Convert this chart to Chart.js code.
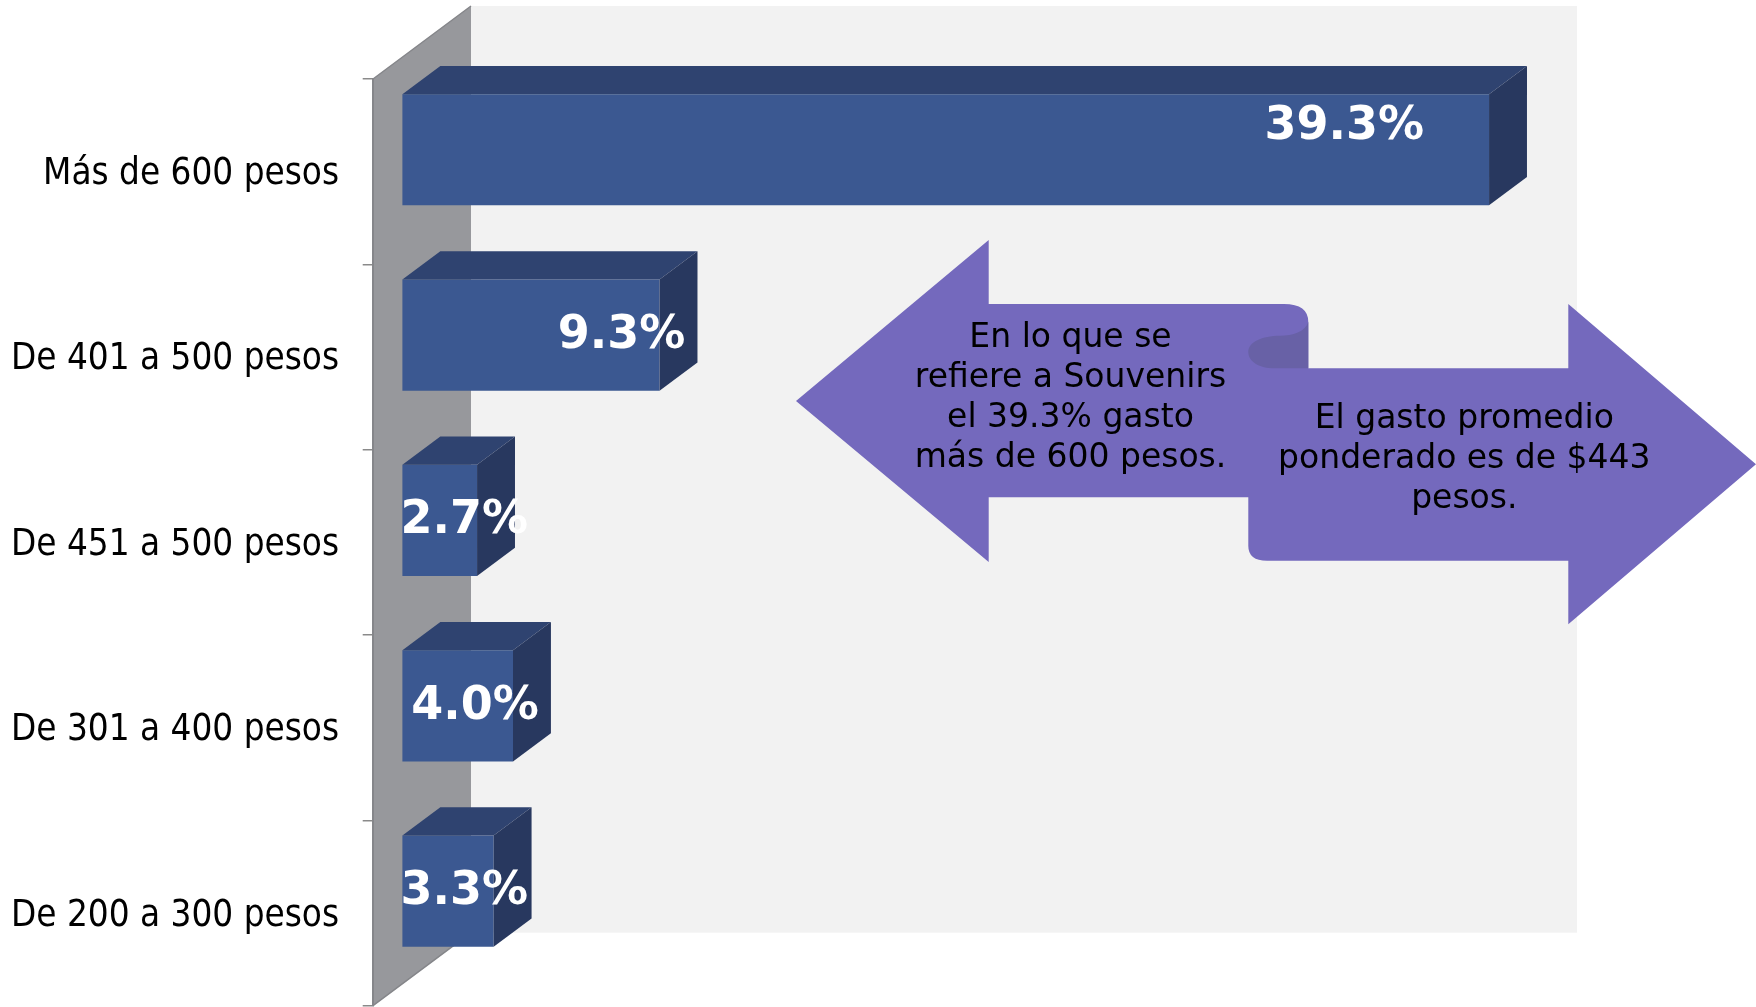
<!DOCTYPE html>
<html>
<head>
<meta charset="utf-8">
<script src="https://cdn.jsdelivr.net/npm/chart.js@4.4.1/dist/chart.umd.min.js"></script>
<style>
  html, body { margin: 0; padding: 0; background: #ffffff; overflow: hidden; }
  #wrap { width: 1756px; height: 1007px; position: relative; }
  canvas { display: block; }
</style>
</head>
<body>
<div id="wrap"><canvas id="c" width="1756" height="1007"></canvas></div>
<script>
// ---------- data ----------
const categories = ['Más de 600 pesos', 'De 401 a 500 pesos', 'De 451 a 500 pesos', 'De 301 a 400 pesos', 'De 200 a 300 pesos'];
const values = [39.3, 9.3, 2.7, 4.0, 3.3];
const axisRange = [0, 40];
const noteLeft = ['En lo que se', 'refiere a Souvenirs', 'el 39.3% gasto', 'más de 600 pesos.'];
const noteRight = ['El gasto promedio', 'ponderado es de $443', 'pesos.'];

// ---------- styling ----------
const DEPTH = { dx: 98, dy: 73 };       // projected depth of the 3D plot box
const BAR_FRONT = 0.3;                  // bars sit this far back in the box
const BAR_DEPTH = 0.387;                // bar depth as fraction of box depth
const COLORS = {
  front: '#3b5891', top: '#2f4370', side: '#28385f',
  wall: '#97989c', wallEdge: '#85868a', back: '#f2f2f2',
  arrow: '#7469bd', curl: '#6861a6', tick: '#8a8a8a'
};
const FONT = "'DejaVu Sans', 'Noto Sans', sans-serif";

const decor = {
  id: 'decor',
  beforeDraw(chart) {
    const { ctx, chartArea: a } = chart;
    ctx.save();
    // back plane
    ctx.fillStyle = COLORS.back;
    ctx.fillRect(a.left + DEPTH.dx, a.top - DEPTH.dy, a.right - a.left, a.bottom - a.top);
    // side wall
    ctx.beginPath();
    ctx.moveTo(a.left, a.top);
    ctx.lineTo(a.left + DEPTH.dx, a.top - DEPTH.dy);
    ctx.lineTo(a.left + DEPTH.dx, a.bottom - DEPTH.dy);
    ctx.lineTo(a.left, a.bottom);
    ctx.closePath();
    ctx.fillStyle = COLORS.wall;
    ctx.fill();
    ctx.strokeStyle = COLORS.wallEdge;
    ctx.lineWidth = 1.5;
    ctx.beginPath();
    ctx.moveTo(a.left, a.top); ctx.lineTo(a.left + DEPTH.dx, a.top - DEPTH.dy);
    ctx.moveTo(a.left, a.bottom); ctx.lineTo(a.left + DEPTH.dx, a.bottom - DEPTH.dy);
    ctx.stroke();
    ctx.restore();
  },
  beforeDatasetsDraw(chart) {
    chart.ctx.save();
    chart.ctx.translate(DEPTH.dx * BAR_FRONT, -DEPTH.dy * BAR_FRONT);
  },
  afterDatasetsDraw(chart) {
    const ctx = chart.ctx;
    const meta = chart.getDatasetMeta(0);
    const ddx = DEPTH.dx * BAR_DEPTH, ddy = DEPTH.dy * BAR_DEPTH;
    meta.data.forEach((bar) => {
      const { x, y, base, height } = bar.getProps(['x', 'y', 'base', 'height'], true);
      const top = y - height / 2, bot = y + height / 2;
      ctx.fillStyle = COLORS.top;
      ctx.beginPath();
      ctx.moveTo(base, top); ctx.lineTo(base + ddx, top - ddy);
      ctx.lineTo(x + ddx, top - ddy); ctx.lineTo(x, top);
      ctx.closePath(); ctx.fill();
      ctx.fillStyle = COLORS.side;
      ctx.beginPath();
      ctx.moveTo(x, top); ctx.lineTo(x + ddx, top - ddy);
      ctx.lineTo(x + ddx, bot - ddy); ctx.lineTo(x, bot);
      ctx.closePath(); ctx.fill();
    });
    // value labels
    const size = 46;
    ctx.font = 'bold ' + size + 'px ' + FONT;
    ctx.fillStyle = '#ffffff';
    ctx.textAlign = 'center';
    ctx.textBaseline = 'alphabetic';
    const half = 0.3645 * size;
    meta.data.forEach((bar, i) => {
      const { x, y, base, height } = bar.getProps(['x', 'y', 'base', 'height'], true);
      const txt = values[i].toFixed(1) + '%';
      const w = ctx.measureText(txt).width;
      let cx, cy;
      if (x - base > 3 * w) {
        cx = x - 65 - w / 2;
        cy = y - height / 2 + 28.5;
      } else {
        cx = Math.max(x - 38, base - 2 + w / 2);
        cy = y - 4;
      }
      ctx.fillText(txt, cx, cy + half);
    });
    ctx.restore();
  },
  afterDraw(chart) {
    const ctx = chart.ctx;
    ctx.save();
    // double arrow shape
    ctx.fillStyle = COLORS.arrow;
    ctx.beginPath();
    ctx.moveTo(796, 401);
    ctx.lineTo(988.7, 240);
    ctx.lineTo(988.7, 304);
    ctx.lineTo(1284, 304);
    ctx.quadraticCurveTo(1308.3, 304, 1308.3, 322);
    ctx.lineTo(1308.3, 368.3);
    ctx.lineTo(1568.3, 368.3);
    ctx.lineTo(1568.3, 304);
    ctx.lineTo(1756, 464.2);
    ctx.lineTo(1568.3, 624.3);
    ctx.lineTo(1568.3, 560.7);
    ctx.lineTo(1267, 560.7);
    ctx.quadraticCurveTo(1248.3, 560.7, 1248.3, 546);
    ctx.lineTo(1248.3, 497.3);
    ctx.lineTo(988.7, 497.3);
    ctx.lineTo(988.7, 562);
    ctx.closePath();
    ctx.fill();
    // scroll curl
    ctx.fillStyle = COLORS.curl;
    ctx.beginPath();
    ctx.moveTo(1308.3, 322);
    ctx.bezierCurveTo(1305, 332, 1293, 335.7, 1280, 335.7);
    ctx.bezierCurveTo(1262, 335.7, 1248.3, 342, 1248.3, 352);
    ctx.bezierCurveTo(1248.3, 362, 1260, 368.3, 1274, 368.3);
    ctx.lineTo(1308.3, 368.3);
    ctx.closePath();
    ctx.fill();
    // texts
    ctx.fillStyle = '#000000';
    ctx.font = '33px ' + FONT;
    ctx.textAlign = 'center';
    ctx.textBaseline = 'alphabetic';
    noteLeft.forEach((t, i) => ctx.fillText(t, 1070.5, 347.3 + 40 * i));
    noteRight.forEach((t, i) => ctx.fillText(t, 1464.3, 428.3 + 40 * i));
    ctx.restore();
  }
};

const chart = new Chart(document.getElementById('c'), {
  type: 'bar',
  data: {
    labels: categories,
    datasets: [{
      data: values,
      backgroundColor: COLORS.front,
      borderWidth: 0,
      barPercentage: 0.6,
      categoryPercentage: 1,
      clip: false
    }]
  },
  options: {
    indexAxis: 'y',
    responsive: false,
    animation: false,
    devicePixelRatio: 1,
    events: [],
    layout: { padding: { top: 79, right: 277, bottom: 1.3, left: 0 } },
    plugins: { legend: { display: false }, tooltip: { enabled: false }, title: { display: false } },
    scales: {
      x: { type: 'linear', min: axisRange[0], max: axisRange[1], display: false },
      y: {
        type: 'category',
        offset: true,
        grid: { display: true, offset: true, drawOnChartArea: false, drawTicks: true, tickLength: 10.3, color: COLORS.tick, lineWidth: 1.5 },
        border: { display: true, color: COLORS.wallEdge, width: 2 },
        ticks: {
          color: '#000000',
          font: { family: FONT, size: 36.5, weight: 'condensed' },
          padding: 23.7,
          labelOffset: 3,
          autoSkip: false
        },
        afterFit(scale) {
          scale.width = 373;
          scale.paddingTop = 0;
          scale.paddingBottom = 0;
        }
      }
    }
  },
  plugins: [decor]
});
</script>
</body>
</html>
